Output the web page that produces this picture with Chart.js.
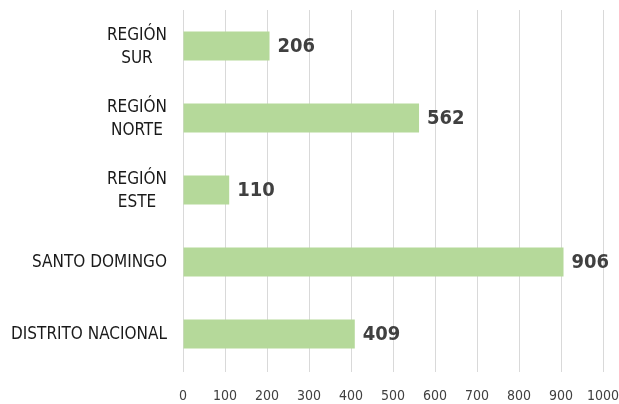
<!DOCTYPE html>
<html>
<head>
<meta charset="utf-8">
<script src="https://cdn.jsdelivr.net/npm/chart.js@4"></script>
<style>
  html, body { margin: 0; padding: 0; background: #fff; }
  #wrap { width: 619px; height: 404px; }
</style>
</head>
<body>
<div id="wrap"><canvas id="chart"></canvas></div>
<script>
// chart data
const categories = [["REGIÓN", "SUR"], ["REGIÓN", "NORTE"], ["REGIÓN", "ESTE"], "SANTO DOMINGO", "DISTRITO NACIONAL"];
const values = [206, 562, 110, 906, 409];
const xTicks = [0, 100, 200, 300, 400, 500, 600, 700, 800, 900, 1000];

// category names (block right aligned, lines centred) and bold values
const drawLabels = {
    id: "drawLabels",
    afterDatasetsDraw(chart) {
        const ctx = chart.ctx;
        const meta = chart.getDatasetMeta(0);
        const right = chart.chartArea.left - 16;
        ctx.save();
        ctx.textBaseline = "middle";

        ctx.font = "17px 'DejaVu Sans Condensed'";
        ctx.fillStyle = "#1a1a1a";
        ctx.textAlign = "center";
        categories.forEach((cat, i) => {
            const lines = Array.isArray(cat) ? cat : [cat];
            const w = Math.max(...lines.map(l => ctx.measureText(l).width));
            const y0 = meta.data[i].y + 1 - (lines.length - 1) * 23 / 2;
            lines.forEach((l, j) => ctx.fillText(l, right - w / 2, y0 + j * 23));
        });

        ctx.font = "bold 20px 'DejaVu Sans Condensed'";
        ctx.fillStyle = "#404040";
        ctx.textAlign = "left";
        meta.data.forEach((bar, i) => {
            ctx.fillText(values[i], bar.x + 8, bar.y + 1);
        });
        ctx.restore();
    }
};

new Chart(document.getElementById("chart"), {
    type: "bar",
    data: {
        labels: categories,
        datasets: [{
            data: values,
            backgroundColor: "#b5d99a",
            borderWidth: 0,
            barPercentage: 0.4,
            categoryPercentage: 1
        }]
    },
    options: {
        indexAxis: "y",
        responsive: true,
        maintainAspectRatio: false,
        animation: false,
        layout: { padding: { top: 10, right: 0, bottom: 0, left: 0 } },
        plugins: {
            legend: { display: false },
            tooltip: { enabled: false }
        },
        scales: {
            x: {
                min: 0,
                max: 1000,
                afterBuildTicks: (scale) => { scale.ticks = xTicks.map(v => ({ value: v })); },
                afterFit: (scale) => {
                    scale.height = 34;
                    scale.paddingLeft = 0;
                    scale.paddingRight = 16;
                },
                grid: { color: "#d9d9d9", lineWidth: 1, drawTicks: true, tickLength: 2 },
                border: { display: false },
                ticks: {
                    color: "#404040",
                    font: { family: "DejaVu Sans Condensed", size: 14 },
                    padding: 16,
                    maxRotation: 0,
                    callback: (v) => String(v)
                }
            },
            y: {
                afterFit: (scale) => { scale.width = 183; },
                grid: { display: false },
                border: { display: false },
                ticks: { display: false }
            }
        }
    },
    plugins: [drawLabels]
});
</script>
</body>
</html>
